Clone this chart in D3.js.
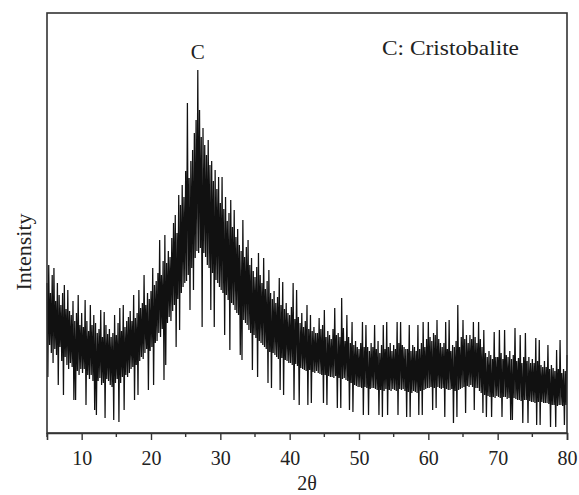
<!DOCTYPE html>
<html>
<head>
<meta charset="utf-8">
<script src="https://cdn.jsdelivr.net/npm/d3@7"></script>
<style>
  body { margin: 0; background: #fff; }
  svg { display: block; }
  text { font-family: "Liberation Serif", "Times New Roman", serif; fill: #222; }
</style>
</head>
<body>
<div id="chart"></div>
<script>
// scan settings (2theta, degrees)
const scanStart = 5
const scanStep = 0.25

// upper and lower excursions of the noisy pattern at each step (arb. counts)
const hiCounts = [
  150, 168, 140, 158,  165, 132, 150, 138,  128, 140, 148, 124,  143, 122, 118, 132,  112, 120, 138, 108,
  120, 106, 133, 112,  102, 128, 108, 118,  110, 100, 104, 123,  96, 121, 108, 99,  104, 96, 100, 118,
  98, 110, 125, 102,  128, 106, 112, 116,  122, 112, 138, 115,  120, 143, 125, 130,  158, 128, 140, 134,
  142, 165, 148, 152,  160, 193, 158, 172,  198, 170, 182, 176,  195, 210, 218, 200,  238, 228, 248, 236,
  262, 330, 255, 272,  283, 300, 313, 363,  323, 296, 305, 288,  278, 293, 268, 272,  252, 263, 244, 256,
  230, 256, 224, 236,  212, 220, 233, 206,  223, 196, 204, 188,  182, 213, 176, 186,  193, 168, 175, 162,
  156, 166, 180, 158,  150, 175, 144, 152,  163, 140, 134, 142,  130, 136, 155, 128,  151, 124, 130, 120,
  118, 126, 150, 114,  143, 116, 110, 120,  106, 112, 128, 104,  118, 102, 106, 100,  100, 115, 104, 108,
  123, 96, 102, 98,  94, 104, 125, 98,  100, 96, 135, 105,  92, 118, 96, 90,  111, 88, 92, 86,
  84, 90, 111, 86,  108, 86, 82, 90,  86, 108, 84, 92,  80, 88, 108, 84,  111, 86, 90, 82,
  88, 84, 111, 90,  111, 88, 86, 84,  84, 108, 82, 88,  86, 82, 108, 84,  90, 111, 86, 94,
  111, 96, 92, 100,  98, 113, 94, 90,  86, 90, 111, 84,  113, 82, 88, 86,  92, 128, 86, 96,
  113, 94, 98, 90,  98, 94, 111, 96,  90, 111, 94, 86,  103, 80, 76, 82,  78, 74, 101, 76,
  76, 103, 80, 74,  103, 78, 76, 82,  74, 78, 105, 72,  75, 98, 70, 76,  100, 72, 76, 70,
  74, 70, 95, 72,  93, 68, 66, 72,  66, 88, 64, 68,  65, 62, 83, 64,  93, 60, 64, 62,
  78
]
const loCounts = [
  56, 88, 80, 70,  84, 78, 48, 86,  72, 38, 76, 68,  64, 70, 66, 33,  33, 62, 58, 64,
  60, 64, 28, 58,  54, 58, 52, 23,  18, 52, 55, 48,  50, 15, 54, 52,  48, 46, 13, 50,
  54, 11, 50, 56,  23, 58, 56, 60,  64, 66, 33, 68,  38, 72, 76, 74,  80, 84, 43, 82,
  86, 48, 90, 92,  100, 96, 104, 53,  68, 110, 116, 112,  122, 128, 86, 134,  103, 140, 146, 150,
  152, 158, 123, 165,  143, 175, 182, 180,  185, 106, 180, 176,  168, 165, 123, 160,  106, 153, 150, 146,
  143, 140, 98, 138,  133, 83, 130, 128,  123, 120, 118, 78,  73, 113, 110, 108,  103, 100, 63, 98,
  95, 56, 92, 90,  88, 86, 84, 50,  81, 45, 80, 78,  76, 74, 43, 75,  38, 73, 72, 70,
  70, 68, 33, 69,  67, 28, 65, 64,  63, 62, 28, 63,  30, 61, 60, 62,  60, 59, 58, 30,
  58, 28, 57, 56,  56, 55, 57, 25,  55, 25, 54, 55,  53, 52, 23, 50,  21, 48, 47, 46,
  46, 45, 18, 46,  45, 18, 44, 45,  45, 44, 43, 18,  43, 16, 42, 44,  18, 43, 42, 44,
  43, 42, 18, 44,  43, 44, 42, 16,  41, 16, 40, 42,  41, 40, 18, 42,  18, 43, 44, 45,
  45, 46, 23, 45,  25, 46, 45, 44,  45, 16, 44, 43,  43, 44, 10, 42,  16, 43, 44, 45,
  46, 20, 47, 46,  48, 46, 23, 45,  45, 42, 40, 20,  38, 16, 37, 36,  16, 36, 35, 37,
  36, 35, 16, 36,  36, 34, 35, 13,  13, 35, 34, 33,  33, 32, 10, 33,  33, 10, 32, 31,
  31, 30, 8, 31,  8, 31, 30, 30,  30, 29, 6, 28,  28, 6, 27, 28,  28, 27, 8, 28,
  28
]

const xTicks = [10, 20, 30, 40, 50, 60, 70, 80]
const xMinorTicks = [5, 15, 25, 35, 45, 55, 65, 75]
const peakLabels = [{ label: 'C', theta: 26.75 }]
const legendText = 'C: Cristobalite'

const width = 579
const height = 495
const margin = { top: 13, right: 12, bottom: 62, left: 47 }

const svg = d3.select('#chart').append('svg')
  .attr('width', width)
  .attr('height', height)

const x = d3.scaleLinear()
  .domain([5, 80])
  .range([margin.left, width - margin.right])

const y = d3.scaleLinear()
  .domain([0, 420])
  .range([height - margin.bottom, margin.top])

// interleave the upper and lower excursions into one trace
const trace = []
hiCounts.forEach((h, i) => {
  const t = scanStart + i * scanStep
  trace.push([t, h])
  if (i < hiCounts.length - 1) trace.push([t + scanStep / 2, loCounts[i]])
})

const line = d3.line()
  .x(d => x(d[0]))
  .y(d => y(d[1]))

svg.append('path')
  .datum(trace)
  .attr('d', line)
  .attr('fill', 'none')
  .attr('stroke', '#111')
  .attr('stroke-width', 1.25)
  .attr('stroke-linejoin', 'miter')
  .attr('stroke-miterlimit', 1)

// frame
svg.append('rect')
  .attr('x', margin.left)
  .attr('y', margin.top)
  .attr('width', width - margin.left - margin.right)
  .attr('height', height - margin.top - margin.bottom)
  .attr('fill', 'none')
  .attr('stroke', '#333')
  .attr('stroke-width', 1.6)

// x axis
const xAxis = svg.append('g')
  .attr('transform', `translate(0,${height - margin.bottom})`)
  .call(d3.axisBottom(x).tickValues(xTicks).tickSize(7).tickPadding(11).tickFormat(d3.format('d')))
xAxis.attr('font-family', '"Liberation Serif", serif').attr('font-size', 20)
xAxis.select('.domain').attr('stroke', '#333').attr('stroke-width', 1.6)
xAxis.selectAll('.tick line').attr('stroke', '#333').attr('stroke-width', 1.4)
xAxis.selectAll('.tick text')
  .style('font-family', '"Liberation Serif", serif')
  .style('font-size', '20px')
  .style('fill', '#222')

svg.append('g')
  .selectAll('line')
  .data(xMinorTicks)
  .enter()
  .append('line')
  .attr('x1', d => x(d))
  .attr('x2', d => x(d))
  .attr('y1', height - margin.bottom)
  .attr('y2', height - margin.bottom + 4)
  .attr('stroke', '#333')
  .attr('stroke-width', 1.4)

// axis titles
svg.append('text')
  .attr('x', x(42.5))
  .attr('y', 490)
  .attr('text-anchor', 'middle')
  .attr('font-size', 20)
  .text('2θ')

svg.append('text')
  .attr('transform', 'translate(31,252) rotate(-90)')
  .attr('text-anchor', 'middle')
  .attr('font-size', 22)
  .text('Intensity')

// peak label and legend text
svg.append('g')
  .selectAll('text')
  .data(peakLabels)
  .enter()
  .append('text')
  .attr('x', d => x(d.theta))
  .attr('y', 59)
  .attr('text-anchor', 'middle')
  .attr('font-size', 21)
  .text(d => d.label)

svg.append('text')
  .attr('x', 382)
  .attr('y', 55)
  .attr('font-size', 21)
  .attr('textLength', 137)
  .attr('lengthAdjust', 'spacingAndGlyphs')
  .text(legendText)
</script>
</body>
</html>
